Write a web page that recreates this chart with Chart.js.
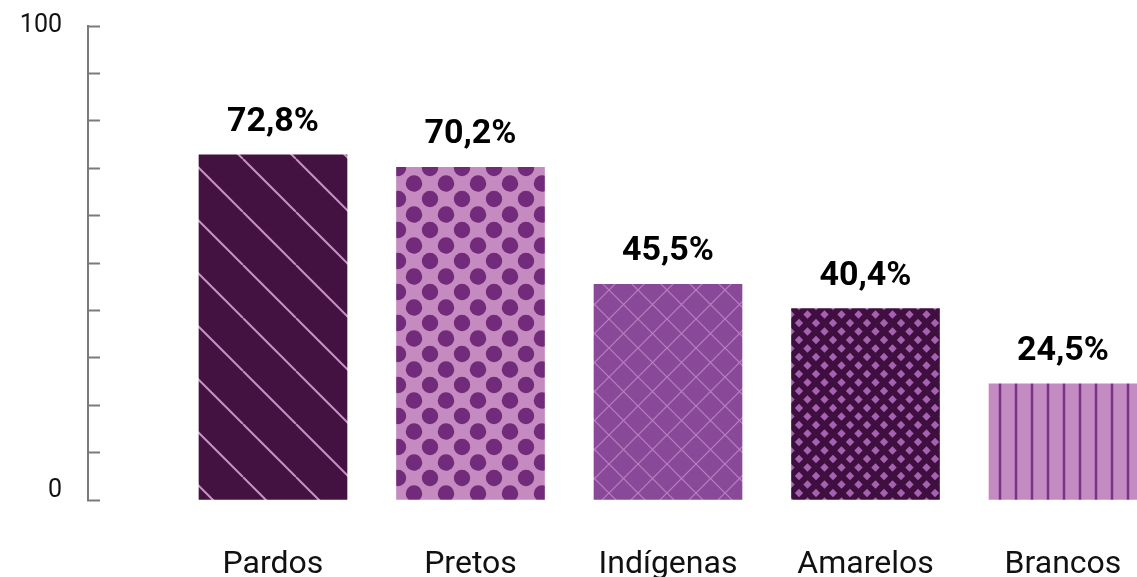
<!DOCTYPE html>
<html lang="pt-BR">
<head>
<meta charset="utf-8">
<title>Percentual por cor ou raça</title>
<script src="https://cdn.jsdelivr.net/npm/chart.js@4.4.1/dist/chart.umd.min.js"></script>
<style>
    html, body { margin: 0; padding: 0; background: #ffffff; overflow: hidden; }
    #wrap { position: relative; width: 1137px; height: 577px; }
</style>
</head>
<body>
<div id="wrap"><canvas id="chart"></canvas></div>
<script>
// Data
const categories = ["Pardos", "Pretos", "Indígenas", "Amarelos", "Brancos"];
const values     = [72.8, 70.2, 45.5, 40.4, 24.5];
const yTickLabels = ["0", "100"];

// -----------------------------------------------------------------------
// Pattern helpers -- each bar gets its own texture
// -----------------------------------------------------------------------
function makeTile(w, h, draw) {
    const c = document.createElement("canvas");
    c.width = w;
    c.height = h;
    const ctx = c.getContext("2d");
    draw(ctx, w, h);
    return document.createElement("canvas").getContext("2d").createPattern(c, "repeat");
}

// diagonal "\" lines
function diagonalPattern(bg, fg, period, width, phase) {
    return makeTile(period, period, (ctx, w, h) => {
        ctx.fillStyle = bg;
        ctx.fillRect(0, 0, w, h);
        ctx.strokeStyle = fg;
        ctx.lineWidth = width;
        for (let k = -2; k <= 2; k++) {
            const x0 = phase + k * period;
            ctx.beginPath();
            ctx.moveTo(x0, 0);
            ctx.lineTo(x0 + period, period);
            ctx.stroke();
        }
    });
}

// staggered dots
function dotPattern(bg, fg, w, h, r, px, py) {
    return makeTile(w, h, (ctx) => {
        ctx.fillStyle = bg;
        ctx.fillRect(0, 0, w, h);
        ctx.fillStyle = fg;
        const centers = [[px, py], [px + w / 2, py + h / 2]];
        centers.forEach(([cx, cy]) => {
            for (let dx = -1; dx <= 1; dx++) {
                for (let dy = -1; dy <= 1; dy++) {
                    ctx.beginPath();
                    ctx.arc(cx + dx * w, cy + dy * h, r, 0, Math.PI * 2);
                    ctx.fill();
                }
            }
        });
    });
}

// both diagonals
function crossPattern(bg, fg, period, width) {
    return makeTile(period, period, (ctx, w, h) => {
        ctx.fillStyle = bg;
        ctx.fillRect(0, 0, w, h);
        ctx.strokeStyle = fg;
        ctx.lineWidth = width;
        for (let k = -1; k <= 1; k++) {
            ctx.beginPath();
            ctx.moveTo(k * w, 0);
            ctx.lineTo(k * w + w, h);
            ctx.stroke();
            ctx.beginPath();
            ctx.moveTo(k * w + w, 0);
            ctx.lineTo(k * w, h);
            ctx.stroke();
        }
    });
}

// small staggered diamonds
function diamondPattern(bg, fg, period, half) {
    return makeTile(period, period, (ctx, w, h) => {
        ctx.fillStyle = bg;
        ctx.fillRect(0, 0, w, h);
        ctx.fillStyle = fg;
        const pts = [[0, 0], [w, 0], [0, h], [w, h], [w / 2, h / 2]];
        pts.forEach(([cx, cy]) => {
            ctx.beginPath();
            ctx.moveTo(cx, cy - half);
            ctx.lineTo(cx + half, cy);
            ctx.lineTo(cx, cy + half);
            ctx.lineTo(cx - half, cy);
            ctx.closePath();
            ctx.fill();
        });
    });
}

// vertical stripes
function stripePattern(bg, fg, period, width, phase) {
    return makeTile(period, 4, (ctx, w, h) => {
        ctx.fillStyle = bg;
        ctx.fillRect(0, 0, w, h);
        ctx.fillStyle = fg;
        ctx.fillRect(phase - width / 2, 0, width, h);
    });
}

const barFills = [
    diagonalPattern("#431241", "#c690c2", 53, 2, 31),
    dotPattern("#c58bc0", "#722a7a", 32, 31, 8.2, 14, 13),
    crossPattern("#8a4898", "#b87fc2", 29, 1.2),
    diamondPattern("#3f0f40", "#a462b0", 17, 4.2),
    stripePattern("#c48bc0", "#7a3487", 16, 2.5, 8),
];

// -----------------------------------------------------------------------
// Value labels over the bars ("72,8%")
// -----------------------------------------------------------------------
const valueLabels = {
    id: "valueLabels",
    afterDatasetsDraw(chart) {
        const ctx = chart.ctx;
        const meta = chart.getDatasetMeta(0);
        ctx.save();
        ctx.font = "bold 34px Roboto, 'DejaVu Sans', sans-serif";
        ctx.fillStyle = "#000000";
        ctx.textAlign = "center";
        ctx.textBaseline = "alphabetic";
        meta.data.forEach((bar, i) => {
            const txt = values[i].toFixed(1).replace(".", ",") + "%";
            ctx.fillText(txt, bar.x, bar.y - 24);
        });
        ctx.restore();
    }
};

const axisGrey = "#7a7a7a";

new Chart(document.getElementById("chart"), {
    type: "bar",
    data: {
        datasets: [{
            data: values.map((v, i) => ({ x: i, y: v })),
            backgroundColor: barFills,
            borderWidth: 0,
            barThickness: 148,
        }],
    },
    options: {
        responsive: true,
        maintainAspectRatio: false,
        animation: false,
        layout: { padding: { top: 26, left: 0, right: 0, bottom: 0 } },
        plugins: {
            legend: { display: false },
            tooltip: { enabled: false },
        },
        scales: {
            x: {
                type: "linear",
                offset: false,
                min: -0.9367,
                max: 4.3747,
                grid: { display: false, drawTicks: false, offset: false },
                border: { display: false },
                afterBuildTicks: (scale) => {
                    scale.ticks = categories.map((c, i) => ({ value: i }));
                },
                afterFit: (scale) => {
                    scale.height = 77;
                    scale.paddingLeft = 0;
                    scale.paddingRight = 0;
                },
                ticks: {
                    autoSkip: false,
                    maxRotation: 0,
                    padding: 46,
                    color: "#111111",
                    font: { family: "Roboto", size: 32 },
                    callback: (v) => categories[v] || "",
                },
            },
            y: {
                min: 0,
                max: 100,
                afterFit: (scale) => {
                    scale.width = 88;
                    scale.paddingTop = 0;
                    scale.paddingBottom = 0;
                },
                grid: {
                    drawOnChartArea: false,
                    drawTicks: true,
                    tickLength: -12,
                    tickColor: axisGrey,
                    tickWidth: 2,
                },
                border: { display: true, color: axisGrey, width: 2 },
                ticks: {
                    stepSize: 10,
                    padding: 38,
                    color: "#111111",
                    font: { family: "Roboto", size: 25, lineHeight: 0.75 },
                    callback: (v) => {
                        if (v === 100) return yTickLabels[1];
                        if (v === 0) return [yTickLabels[0], ""];
                        return "";
                    },
                },
            },
        },
    },
    plugins: [valueLabels],
});
</script>
</body>
</html>
